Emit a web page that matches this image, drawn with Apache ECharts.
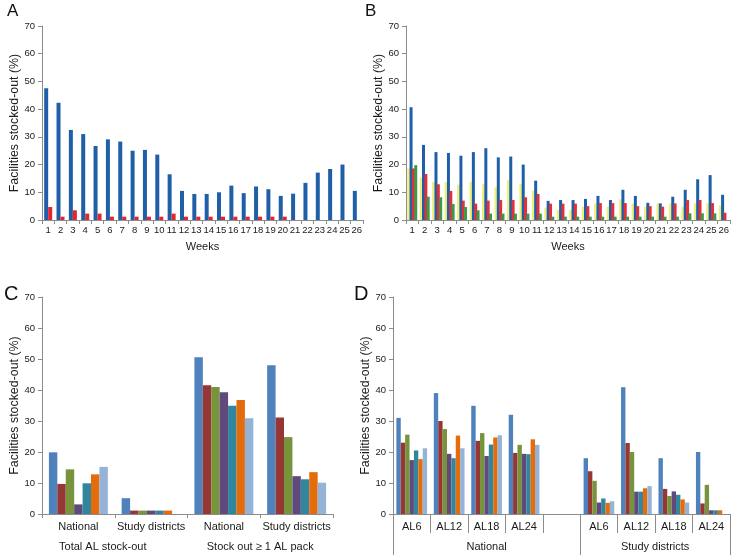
<!DOCTYPE html>
<html><head><meta charset="utf-8">
<script src="https://cdn.jsdelivr.net/npm/echarts@6/dist/echarts.min.js"></script>
<style>html,body{margin:0;padding:0;background:#fff}#c{width:734px;height:557px}</style>
</head><body><div id="c"></div>
<script>
// ---------- DATA ----------
const weeks = ['1','2','3','4','5','6','7','8','9','10','11','12','13','14','15','16','17','18','19','20','21','22','23','24','25','26'];
const A_blue = [47.5,42.3,32.5,31.0,26.7,29.1,28.3,25.0,25.3,23.6,16.5,10.5,9.4,9.4,10.0,12.4,9.7,12.1,11.1,8.7,9.5,13.4,17.1,18.4,20.0,10.5];
const A_red  = [4.7,1.2,3.5,2.3,2.3,1.2,1.2,1.2,1.2,1.2,2.3,1.2,1.2,1.2,1.2,1.2,1.2,1.2,1.2,1.2,0,0,0,0,0,0];

const B_yellow = [18.6,15.3,13.8,13.7,12.7,13.8,12.9,11.8,14.4,13.0,10.6,4.5,3.6,3.6,4.8,6.0,4.8,7.5,6.0,4.8,6.0,6.0,4.8,6.0,6.0,5.2];
const B_blue   = [40.7,27.1,24.5,24.2,23.2,24.5,25.9,22.6,22.9,20.0,14.2,6.9,7.2,7.2,7.6,8.7,7.2,10.9,8.7,6.2,6.0,8.4,10.9,14.7,16.2,9.1];
const B_red    = [18.6,16.6,12.9,10.5,7.0,5.9,7.0,7.2,7.2,8.2,9.4,5.9,5.9,5.9,5.0,6.1,6.1,6.1,5.0,5.0,4.8,6.0,7.2,7.2,6.1,2.6];
const B_green  = [19.8,8.4,8.2,5.8,4.7,3.5,2.3,2.3,2.3,2.3,2.3,1.2,1.2,1.2,1.2,1.2,1.2,1.2,1.2,1.2,1.2,1.2,2.4,2.4,2.4,0];

const C_cats = ['National','Study districts','National','Study districts'];
const C_groups = ['Total AL stock-out','Stock out \u2265 1 AL pack'];
const C_s1 = [19.9,5.1,50.6,48.0];
const C_s2 = [9.7,1.1,41.5,31.1];
const C_s3 = [14.4,1.1,41.0,24.8];
const C_s4 = [3.1,1.1,39.3,12.2];
const C_s5 = [9.9,1.1,34.9,11.2];
const C_s6 = [12.8,1.1,36.8,13.5];
const C_s7 = [15.2,0,30.9,10.1];

const D_cats = ['AL6','AL12','AL18','AL24','','AL6','AL12','AL18','AL24'];
const D_groups = ['National','Study districts'];
const D_s1 = [31.0,39.0,34.9,32.0,null,18.0,40.9,18.0,20.0];
const D_s2 = [23.0,30.0,23.6,19.7,null,13.8,22.9,8.1,3.4];
const D_s3 = [25.6,27.4,26.1,22.3,null,10.7,20.0,5.8,9.4];
const D_s4 = [17.4,19.4,18.7,19.4,null,3.7,7.2,7.3,1.2];
const D_s5 = [20.5,18.0,22.4,19.3,null,5.0,7.2,6.2,1.2];
const D_s6 = [17.7,25.3,24.7,24.1,null,3.6,8.3,4.7,1.2];
const D_s7 = [21.2,21.2,25.4,22.3,null,4.1,9.0,3.7,0];

const yTitle = 'Facilities stocked-out (%)';
// ---------- STYLE ----------
const FONT = 'Liberation Sans, Arial, sans-serif';
const TXT = '#1a1a1a';
const AX = '#8c8c8c';
const pal7 = ['#4f81bd','#953735','#77933c','#604a7b','#31859c','#e46c0a','#95b3d7'];

const grids = [
  {left:42, top:26, width:321, height:194},
  {left:406, top:26, width:324, height:194},
  {left:42, top:297, width:291, height:217},
  {left:393, top:297, width:337, height:217}
];

function yAx(i, gap){
  return {type:'value', gridIndex:i, min:0, max:70, interval:10,
    name:yTitle, nameLocation:'middle', nameGap:gap,
    nameTextStyle:{fontFamily:FONT, fontSize:12.4, color:TXT},
    axisLine:{show:true, lineStyle:{color:AX}},
    axisTick:{show:true, length:4, lineStyle:{color:AX}},
    splitLine:{show:false},
    axisLabel:{fontFamily:FONT, fontSize:9.5, color:TXT, margin:7}};
}
function xAx(i, data, extra){
  return Object.assign({type:'category', gridIndex:i, data:data,
    axisLine:{show:true, lineStyle:{color:AX}},
    axisTick:{show:true, length:4, interval:0, lineStyle:{color:AX}},
    axisLabel:{interval:0, fontFamily:FONT, fontSize:9.5, color:TXT, margin:5},
    splitLine:{show:false}}, extra||{});
}
function bar(xi, data, color, w, extra){
  return Object.assign({type:'bar', xAxisIndex:xi, yAxisIndex:xi, data:data,
    barWidth:w, itemStyle:{color:color}, silent:true, animation:false}, extra||{});
}

const series = [];
series.push(bar(0, A_blue, '#1f5fa8', 4, {barGap:'0%'}));
series.push(bar(0, A_red, '#e3262b', 4));
series.push(bar(1, B_yellow, '#eef07e', 3, {barGap:'-22%'}));
series.push(bar(1, B_blue, '#1f5fa8', 3));
series.push(bar(1, B_red, '#e0303a', 3));
series.push(bar(1, B_green, '#3a9a48', 3));
[C_s1,C_s2,C_s3,C_s4,C_s5,C_s6,C_s7].forEach((d,k)=>{
  series.push(bar(2, d, pal7[k], undefined, {barGap:'0%', barCategoryGap:'19%'}));
});
[D_s1,D_s2,D_s3,D_s4,D_s5,D_s6,D_s7].forEach((d,k)=>{
  series.push(bar(3, d, pal7[k], undefined, {barGap:'0%', barCategoryGap:'18%'}));
});

// group labels & long separators
const g = [];
function letter(text, x, y, size){
  g.push({type:'text', x:x, y:y, style:{text:text, fontFamily:'Liberation Sans, Arial', fontSize:size, fill:'#111', textVerticalAlign:'top'}});
}
letter('A', 7, 3, 17);
letter('B', 365, 3, 17);
letter('C', 4, 284, 20);
letter('D', 354, 284, 20);
const GF = 11;
// C group labels
const cw = grids[2].width / C_cats.length;
g.push({type:'text', x:grids[2].left + cw*1 - 12, y:547, style:{text:C_groups[0], fontFamily:FONT, fontSize:GF, fill:TXT, textAlign:'center', textVerticalAlign:'middle'}});
g.push({type:'text', x:grids[2].left + cw*3, y:547, style:{text:C_groups[1], fontFamily:FONT, fontSize:GF, fill:TXT, textAlign:'center', textVerticalAlign:'middle'}});
// D group labels and long ticks
const dw = grids[3].width / D_cats.length;
const dl = grids[3].left, dBase = grids[3].top + grids[3].height;
g.push({type:'text', x:dl + dw*2.5, y:547, style:{text:D_groups[0], fontFamily:FONT, fontSize:GF, fill:TXT, textAlign:'center', textVerticalAlign:'middle'}});
g.push({type:'text', x:dl + dw*7, y:547, style:{text:D_groups[1], fontFamily:FONT, fontSize:GF, fill:TXT, textAlign:'center', textVerticalAlign:'middle'}});
[0,5,9].forEach(i=>{
  const x = Math.round(dl + dw*i) + 0.5;
  g.push({type:'line', shape:{x1:x, y1:dBase, x2:x, y2:555}, style:{stroke:AX, lineWidth:1}});
});

const wName = {name:'Weeks', nameLocation:'middle', nameGap:21, nameTextStyle:{fontFamily:FONT, fontSize:11, color:TXT}};
const option = {
  animation:false,
  backgroundColor:'#fff',
  grid: grids,
  xAxis: [
    xAx(0, weeks, wName),
    xAx(1, weeks, wName),
    xAx(2, C_cats, {axisLabel:{interval:0, fontFamily:FONT, fontSize:11, color:TXT, margin:7}}),
    xAx(3, D_cats, {axisTick:{show:true, length:19, interval:0, lineStyle:{color:AX}}, axisLabel:{interval:0, fontFamily:FONT, fontSize:11, color:TXT, margin:7}})
  ],
  yAxis: [yAx(0,20), yAx(1,20), yAx(2,21), yAx(3,20)],
  series: series,
  graphic: g
};
const chart = echarts.init(document.getElementById('c'), null, {renderer:'canvas'});
chart.setOption(option);
</script></body></html>
